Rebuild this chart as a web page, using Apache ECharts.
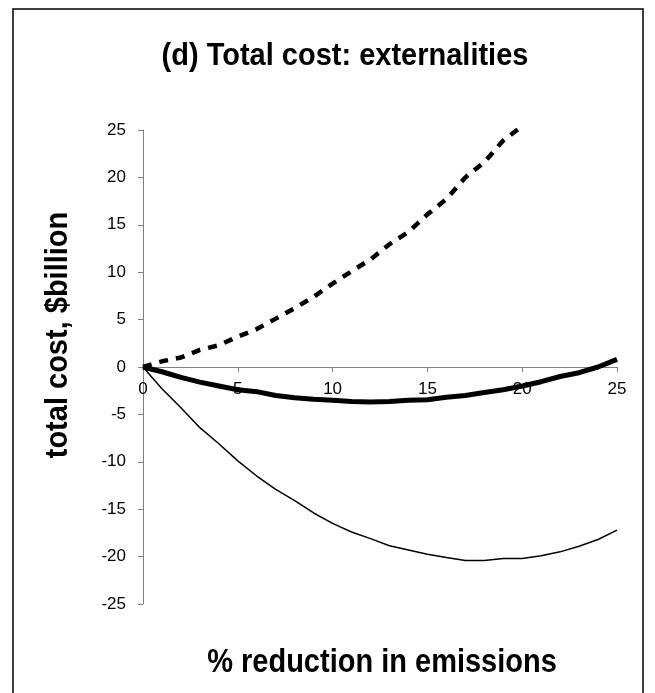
<!DOCTYPE html>
<html lang="en">
<head>
<meta charset="utf-8" />
<title>(d) Total cost: externalities</title>
<script src="https://cdn.jsdelivr.net/npm/echarts@6/dist/echarts.min.js"></script>
<style>
  html, body { margin: 0; padding: 0; background: #fff; }
  #chart { width: 655px; height: 693px; }
</style>
</head>
<body>
<div id="chart"></div>
<script>
// % reduction in emissions
var reduction = [0, 1, 2, 3, 4, 5, 6, 7, 8, 9, 10, 11, 12, 13, 14, 15, 16, 17, 18, 19, 20, 21, 22, 23, 24, 25];

// dashed curve (runs off the top of the chart after ~20%)
var dashedCost = [0, 0.6, 1.0, 1.8, 2.3, 3.2, 4.0, 5.1, 6.2, 7.4, 8.8, 10.1, 11.35, 12.95, 14.25, 16.1, 17.7, 20.0, 21.6, 23.9, 25.4];

// thick solid curve
var thickCost = [0, -0.5, -1.1, -1.6, -2.0, -2.4, -2.6, -3.0, -3.25, -3.4, -3.5, -3.65, -3.7, -3.65, -3.5, -3.45, -3.2, -3.0, -2.7, -2.4, -2.0, -1.55, -1.0, -0.6, 0.0, 0.8];

// thin solid curve
var thinCost = [0, -2.3, -4.3, -6.4, -8.1, -9.9, -11.5, -12.9, -14.1, -15.4, -16.5, -17.4, -18.1, -18.85, -19.3, -19.75, -20.1, -20.4, -20.4, -20.2, -20.2, -19.9, -19.5, -18.9, -18.2, -17.2];

var titleText = '(d) Total cost: externalities';
var xName = '% reduction in emissions';
var yName = 'total cost, $billion';

function pairs(ys) {
    var out = [];
    for (var i = 0; i < ys.length; i++) {
        out.push([reduction[i], ys[i]]);
    }
    return out;
}

var chart = echarts.init(document.getElementById('chart'));
var font = '"Liberation Sans", Arial, sans-serif';

// grid: plot box 143..617 x 130..604, so y=0 sits 237px above the bottom edge
var option = {
    animation: false,
    backgroundColor: '#fff',
    grid: {
        left: 143, right: 38, top: 130, bottom: 89,
        containLabel: false,
        outerBoundsMode: 'none'
    },
    xAxis: {
        type: 'value',
        min: 0, max: 25, interval: 5,
        offset: -237,
        axisLine: { show: true, onZero: false, lineStyle: { color: '#808080', width: 1 } },
        axisTick: { show: true, length: 5, lineStyle: { color: '#808080' } },
        axisLabel: { margin: 14, fontSize: 17, color: '#000', fontFamily: font },
        splitLine: { show: false }
    },
    yAxis: {
        type: 'value',
        min: -25, max: 25, interval: 5,
        axisLine: { show: true, onZero: false, lineStyle: { color: '#808080', width: 1 } },
        axisTick: { show: true, length: 5, lineStyle: { color: '#808080' } },
        axisLabel: { margin: 17, fontSize: 17, color: '#000', fontFamily: font },
        splitLine: { show: false }
    },
    series: [
        {
            type: 'line', data: pairs(dashedCost), symbol: 'none', clip: true,
            lineStyle: { color: '#000', width: 4.5, type: [9, 8] }
        },
        {
            type: 'line', data: pairs(thickCost), symbol: 'none', clip: true,
            lineStyle: { color: '#000', width: 5 }
        },
        {
            type: 'line', data: pairs(thinCost), symbol: 'none', clip: true,
            lineStyle: { color: '#000', width: 1.5 }
        }
    ],
    graphic: [
        {
            type: 'rect', silent: true,
            shape: { x: 13, y: 9, width: 630, height: 720 },
            style: { fill: 'none', stroke: '#000', lineWidth: 1.5 }
        },
        {
            type: 'text', x: 345, y: 57, scaleY: 1.05,
            style: { text: titleText, font: 'bold 29px ' + font, fill: '#000', align: 'center', verticalAlign: 'middle' }
        },
        {
            type: 'text', x: 382, y: 663, scaleY: 1.12,
            style: { text: xName, font: 'bold 29px ' + font, fill: '#000', align: 'center', verticalAlign: 'middle' }
        },
        {
            type: 'text', x: 58, y: 335, rotation: Math.PI / 2, scaleY: 1.1,
            style: { text: yName, font: 'bold 29px ' + font, fill: '#000', align: 'center', verticalAlign: 'middle' }
        }
    ]
};

chart.setOption(option);
</script>
</body>
</html>
